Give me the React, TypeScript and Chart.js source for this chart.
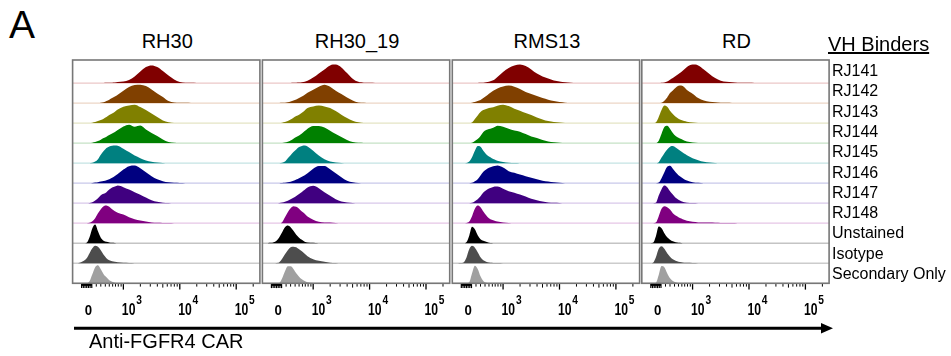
import React, { useEffect, useRef } from "react";
import { Chart, registerables } from "chart.js";
Chart.register(...registerables);

// ---------- data ----------
const PANELS = ["RH30", "RH30_19", "RMS13", "RD"];
const SERIES = ["RJ141", "RJ142", "RJ143", "RJ144", "RJ145", "RJ146", "RJ147", "RJ148", "Unstained", "Isotype", "Secondary Only"];
const COLORS = ["#800000", "#804000", "#808000", "#008000", "#008080", "#000080", "#400080", "#800080", "#000000", "#4d4d4d", "#a0a0a0"];
const TINTS = ["#ebc7c7", "#ecd6c6", "#e4e4c4", "#c6e2c6", "#c4e3e3", "#c8c8ea", "#d8c8ea", "#e6c6e6", "#c4c4c4", "#cccccc", "#d4d4d4"];

// display positions on the biexponential axis (decade units)
const GRID = [2.2, 2.25, 2.3, 2.35, 2.4, 2.45, 2.5, 2.55, 2.6, 2.65, 2.7, 2.75, 2.8, 2.85, 2.9,
  3.0, 3.1, 3.2, 3.3, 3.4, 3.5, 3.6, 3.7, 3.8, 3.9, 4.0, 4.1, 4.2, 4.3];
const X_MIN = 2.1;
const X_MAX = 5.42;
const ZERO_POS = 2.38;
const DECADE_TICKS = [3, 4, 5];
const BELOW_1E3_TICKS = [2.52, 2.6, 2.68, 2.75, 2.81, 2.86, 2.91, 2.96];
const ZERO_TICKS = [2.26, 2.29, 2.32, 2.35, 2.38, 2.41, 2.44];

// RH30
const RH30_RJ141 = [0, 0, 0, 0, 0, 0, 0, 0, 0, 0, .01, .01, .02, .03, .05, .08, .15, .33, .58, .8, .88, .8, .6, .38, .18, .05, .02, .01, 0];
const RH30_RJ142 = [0, 0, 0, 0, 0, 0, 0, 0, .01, .04, .1, .17, .25, .33, .42, .62, .8, .9, .92, .85, .68, .48, .3, .1, .03, .02, .01, 0, 0];
const RH30_RJ143 = [0, 0, 0, 0, 0, .02, .05, .1, .15, .22, .3, .4, .48, .57, .68, .82, .88, .92, .8, .65, .48, .3, .13, .04, .01, 0, 0, 0, 0];
const RH30_RJ144 = [0, 0, 0, 0, 0, .02, .05, .1, .17, .25, .32, .4, .48, .55, .65, .83, .92, .82, .88, .68, .5, .35, .18, .05, .02, 0, 0, 0, 0];
const RH30_RJ145 = [0, 0, 0, 0, 0, .02, .08, .2, .42, .6, .75, .83, .87, .88, .87, .72, .55, .38, .25, .13, .07, .03, .01, 0, 0, 0, 0, 0, 0];
const RH30_RJ146 = [0, 0, 0, 0, 0, .01, .03, .05, .08, .11, .15, .2, .27, .36, .46, .68, .85, .88, .75, .55, .35, .2, .1, .04, .02, .01, 0, 0, 0];
const RH30_RJ147 = [0, 0, 0, 0, .01, .05, .13, .25, .4, .47, .55, .68, .78, .83, .88, .8, .68, .55, .42, .28, .15, .07, .02, .01, 0, 0, 0, 0, 0];
const RH30_RJ148 = [0, 0, 0, 0, .02, .1, .25, .5, .7, .85, .88, .82, .7, .6, .52, .43, .3, .2, .13, .08, .03, .02, .01, .01, 0, 0, 0, 0, 0];
const RH30_UNST = [0, 0, 0, .03, .3, .75, .93, .6, .28, .13, .07, .04, .02, .01, 0, 0, 0, 0, 0, 0, 0, 0, 0, 0, 0, 0, 0, 0, 0];
const RH30_ISO = [.01, .05, .12, .25, .5, .75, .88, .82, .65, .42, .25, .15, .1, .07, .05, .02, .01, 0, 0, 0, 0, 0, 0, 0, 0, 0, 0, 0, 0];
const RH30_SEC = [0, 0, 0, .01, .1, .45, .8, .9, .7, .45, .3, .15, .08, .03, .01, 0, 0, 0, 0, 0, 0, 0, 0, 0, 0, 0, 0, 0, 0];

// RH30_19
const RH3019_RJ141 = [0, 0, 0, 0, 0, 0, 0, 0, 0, .01, .02, .03, .04, .07, .12, .27, .48, .68, .88, .92, .78, .5, .22, .06, .02, .01, 0, 0, 0];
const RH3019_RJ142 = [0, 0, 0, 0, 0, .01, .02, .04, .08, .13, .18, .25, .33, .42, .52, .67, .82, .92, .82, .62, .45, .28, .13, .03, .01, 0, 0, 0, 0];
const RH3019_RJ143 = [0, 0, 0, 0, 0, .02, .05, .1, .18, .27, .35, .42, .52, .63, .75, .83, .88, .83, .75, .6, .42, .25, .12, .04, .01, 0, 0, 0, 0];
const RH3019_RJ144 = [0, 0, 0, 0, 0, .01, .03, .07, .13, .22, .3, .38, .48, .6, .72, .85, .86, .78, .62, .45, .3, .15, .05, .02, .01, 0, 0, 0, 0];
const RH3019_RJ145 = [0, 0, 0, 0, 0, .02, .08, .25, .4, .55, .68, .8, .86, .88, .83, .62, .38, .2, .08, .03, .01, 0, 0, 0, 0, 0, 0, 0, 0];
const RH3019_RJ146 = [0, 0, 0, 0, 0, .01, .02, .04, .07, .12, .18, .25, .32, .4, .5, .72, .86, .86, .7, .5, .3, .12, .05, .01, 0, 0, 0, 0, 0];
const RH3019_RJ147 = [0, 0, 0, 0, .01, .03, .07, .12, .2, .27, .36, .46, .56, .67, .78, .87, .75, .55, .37, .2, .08, .03, .01, 0, 0, 0, 0, 0, 0];
const RH3019_RJ148 = [0, 0, 0, 0, 0, .05, .3, .55, .75, .85, .82, .72, .58, .47, .33, .17, .07, .04, .03, .01, 0, 0, 0, 0, 0, 0, 0, 0, 0];
const RH3019_UNST = [.01, .02, .05, .12, .3, .55, .8, .88, .8, .62, .42, .28, .17, .08, .04, .02, 0, 0, 0, 0, 0, 0, 0, 0, 0, 0, 0, 0, 0];
const RH3019_ISO = [0, 0, 0, .01, .05, .22, .45, .65, .8, .83, .8, .7, .6, .47, .35, .2, .12, .08, .03, .01, 0, 0, 0, 0, 0, 0, 0, 0, 0];
const RH3019_SEC = [0, 0, 0, 0, .02, .25, .6, .85, .85, .72, .5, .33, .2, .12, .05, .01, 0, 0, 0, 0, 0, 0, 0, 0, 0, 0, 0, 0, 0];

// RMS13
const RMS13_RJ141 = [0, 0, 0, 0, 0, 0, 0, 0, .01, .02, .04, .07, .12, .18, .3, .55, .75, .88, .92, .85, .68, .47, .33, .23, .13, .08, .04, .02, 0];
const RMS13_RJ142 = [0, 0, 0, 0, 0, .02, .05, .1, .15, .25, .35, .47, .57, .65, .73, .83, .88, .82, .7, .55, .45, .35, .25, .17, .1, .05, .02, 0, 0];
const RMS13_RJ143 = [0, 0, 0, 0, 0, .03, .2, .38, .55, .65, .7, .75, .78, .82, .87, .92, .85, .72, .62, .5, .4, .28, .18, .1, .06, .03, .01, 0, 0];
const RMS13_RJ144 = [0, 0, 0, 0, 0, .02, .1, .2, .35, .55, .65, .7, .74, .8, .87, .82, .72, .63, .57, .45, .33, .25, .15, .08, .04, .02, 0, 0, 0];
const RMS13_RJ145 = [0, 0, 0, .01, .08, .3, .62, .86, .82, .62, .45, .33, .25, .18, .12, .06, .02, .01, 0, 0, 0, 0, 0, 0, 0, 0, 0, 0, 0];
const RMS13_RJ146 = [0, 0, 0, 0, 0, .02, .1, .2, .38, .57, .68, .77, .82, .86, .88, .78, .6, .52, .43, .35, .27, .2, .12, .08, .04, .02, 0, 0, 0];
const RMS13_RJ147 = [0, 0, 0, 0, 0, .02, .1, .2, .35, .53, .65, .73, .78, .83, .83, .72, .6, .52, .43, .33, .22, .15, .08, .04, .02, .01, 0, 0, 0];
const RMS13_RJ148 = [0, 0, 0, .01, .08, .35, .72, .88, .8, .58, .4, .25, .17, .12, .08, .03, .01, 0, 0, 0, 0, 0, 0, 0, 0, 0, 0, 0, 0];
const RMS13_UNST = [0, 0, 0, .05, .38, .82, .7, .4, .2, .12, .07, .03, .01, 0, 0, 0, 0, 0, 0, 0, 0, 0, 0, 0, 0, 0, 0, 0, 0];
const RMS13_ISO = [0, .01, .04, .28, .7, .87, .78, .55, .3, .15, .08, .04, .02, .01, .01, 0, 0, 0, 0, 0, 0, 0, 0, 0, 0, 0, 0, 0, 0];
const RMS13_SEC = [0, 0, 0, 0, .05, .5, .88, .72, .35, .12, .03, .01, 0, 0, 0, 0, 0, 0, 0, 0, 0, 0, 0, 0, 0, 0, 0, 0, 0];

// RD
const RD_RJ141 = [0, 0, 0, 0, 0, .01, .03, .08, .17, .25, .35, .45, .55, .67, .8, .92, .88, .68, .45, .25, .12, .06, .04, .02, .01, .01, 0, 0, 0];
const RD_RJ142 = [0, 0, 0, 0, 0, .02, .12, .28, .5, .63, .77, .86, .88, .8, .65, .47, .25, .13, .07, .04, .02, .01, 0, 0, 0, 0, 0, 0, 0];
const RD_RJ143 = [0, 0, 0, .03, .3, .65, .88, .82, .62, .45, .32, .22, .15, .1, .07, .03, .01, 0, 0, 0, 0, 0, 0, 0, 0, 0, 0, 0, 0];
const RD_RJ144 = [0, 0, 0, 0, .12, .47, .8, .87, .72, .5, .35, .27, .2, .13, .08, .03, .01, 0, 0, 0, 0, 0, 0, 0, 0, 0, 0, 0, 0];
const RD_RJ145 = [0, 0, 0, 0, .05, .28, .5, .68, .82, .85, .78, .68, .58, .48, .4, .25, .15, .07, .03, .01, 0, 0, 0, 0, 0, 0, 0, 0, 0];
const RD_RJ146 = [0, 0, 0, 0, .03, .25, .55, .82, .87, .72, .55, .4, .3, .2, .13, .05, .02, 0, 0, 0, 0, 0, 0, 0, 0, 0, 0, 0, 0];
const RD_RJ147 = [0, 0, 0, .02, .38, .7, .88, .8, .6, .43, .27, .17, .1, .05, .02, .01, 0, 0, 0, 0, 0, 0, 0, 0, 0, 0, 0, 0, 0];
const RD_RJ148 = [0, 0, 0, .03, .35, .72, .85, .8, .68, .5, .38, .3, .23, .17, .12, .07, .04, .03, .03, .02, .01, .01, .01, 0, 0, 0, 0, 0, 0];
const RD_UNST = [0, 0, .02, .35, .83, .75, .5, .3, .18, .1, .05, .02, .01, 0, 0, 0, 0, 0, 0, 0, 0, 0, 0, 0, 0, 0, 0, 0, 0];
const RD_ISO = [0, 0, .03, .3, .72, .85, .72, .5, .33, .2, .13, .08, .05, .03, .02, .01, 0, 0, 0, 0, 0, 0, 0, 0, 0, 0, 0, 0, 0];
const RD_SEC = [0, 0, 0, .03, .42, .86, .8, .5, .25, .12, .05, .02, .01, 0, 0, 0, 0, 0, 0, 0, 0, 0, 0, 0, 0, 0, 0, 0, 0];

const PANEL_DATA = [
  [RH30_RJ141, RH30_RJ142, RH30_RJ143, RH30_RJ144, RH30_RJ145, RH30_RJ146, RH30_RJ147, RH30_RJ148, RH30_UNST, RH30_ISO, RH30_SEC],
  [RH3019_RJ141, RH3019_RJ142, RH3019_RJ143, RH3019_RJ144, RH3019_RJ145, RH3019_RJ146, RH3019_RJ147, RH3019_RJ148, RH3019_UNST, RH3019_ISO, RH3019_SEC],
  [RMS13_RJ141, RMS13_RJ142, RMS13_RJ143, RMS13_RJ144, RMS13_RJ145, RMS13_RJ146, RMS13_RJ147, RMS13_RJ148, RMS13_UNST, RMS13_ISO, RMS13_SEC],
  [RD_RJ141, RD_RJ142, RD_RJ143, RD_RJ144, RD_RJ145, RD_RJ146, RD_RJ147, RD_RJ148, RD_UNST, RD_ISO, RD_SEC],
];

// ---------- layout ----------
const PANEL_LEFT = [72.6, 262.4, 452.3, 641.8];
const PANEL_W = 187.3;
const PANEL_TOP = 60;
const PANEL_H = 223.3;
const CANVAS_W = 232;
const CANVAS_H = 280;
const CANVAS_TOP = 50;
const Y_MAX = 11.15;
const FONT = '"Liberation Sans", Arial, sans-serif';

const decorPlugin = {
  id: "decor",
  beforeDatasetsDraw(chart: any) {
    const { ctx, chartArea, scales } = chart;
    ctx.save();
    SERIES.forEach((_, i) => {
      const py = scales.y.getPixelForValue(SERIES.length - 1 - i);
      ctx.strokeStyle = TINTS[i];
      ctx.lineWidth = 1.3;
      ctx.beginPath();
      ctx.moveTo(chartArea.left, py);
      ctx.lineTo(chartArea.right, py);
      ctx.stroke();
    });
    ctx.restore();
  },
  afterDraw(chart: any) {
    const { ctx, chartArea, scales } = chart;
    const x = scales.x;
    const b = chartArea.bottom;
    ctx.save();
    // frame
    ctx.strokeStyle = "#777777";
    ctx.lineWidth = 1.6;
    ctx.strokeRect(chartArea.left, chartArea.top, chartArea.right - chartArea.left, chartArea.bottom - chartArea.top);
    // ticks
    ctx.strokeStyle = "#000";
    const tick = (v: number, len: number, w = 1) => {
      const px = x.getPixelForValue(v);
      ctx.lineWidth = w;
      ctx.beginPath();
      ctx.moveTo(px, b + 0.8);
      ctx.lineTo(px, b + 0.8 + len);
      ctx.stroke();
    };
    ZERO_TICKS.forEach((v) => tick(v, 4, 1.2));
    ctx.lineWidth = 2;
    ctx.beginPath();
    ctx.moveTo(x.getPixelForValue(ZERO_TICKS[0]), b + 1.6);
    ctx.lineTo(x.getPixelForValue(ZERO_TICKS[ZERO_TICKS.length - 1]), b + 1.6);
    ctx.stroke();
    BELOW_1E3_TICKS.forEach((v) => tick(v, 2.5));
    DECADE_TICKS.forEach((d) => {
      tick(d, 5.5, 1.3);
      for (let k = 2; k <= 9; k++) {
        const v = d + Math.log10(k);
        if (v < X_MAX) tick(v, k === 5 ? 3.5 : 2.5);
      }
    });
    // labels
    ctx.fillStyle = "#000";
    ctx.textBaseline = "alphabetic";
    ctx.font = `bold 15px ${FONT}`;
    ctx.textAlign = "center";
    ctx.save();
    ctx.translate(x.getPixelForValue(ZERO_POS), b + 31.8);
    ctx.scale(0.88, 1);
    ctx.fillText("0", 0, 0);
    ctx.restore();
    ctx.textAlign = "left";
    DECADE_TICKS.forEach((d) => {
      const px = x.getPixelForValue(d) - 1.5;
      ctx.font = `bold 16px ${FONT}`;
      const w = ctx.measureText("10").width * 0.76;
      ctx.save();
      ctx.translate(px, b + 31.6);
      ctx.scale(0.76, 1);
      ctx.fillText("10", 0, 0);
      ctx.restore();
      ctx.font = `bold 12px ${FONT}`;
      ctx.save();
      ctx.translate(px + w + 0.8, b + 20.6);
      ctx.scale(0.85, 1);
      ctx.fillText(String(d), 0, 0);
      ctx.restore();
    });
    ctx.restore();
  },
};

function Panel({ p }: { p: number }) {
  const ref = useRef<HTMLCanvasElement | null>(null);
  const canvasLeft = Math.floor(PANEL_LEFT[p]) - 20;
  useEffect(() => {
    if (!ref.current) return;
    const padLeft = PANEL_LEFT[p] - canvasLeft;
    const datasets = SERIES.map((name, i) => {
      const base = SERIES.length - 1 - i;
      const vals = PANEL_DATA[p][i];
      return {
        label: name,
        data: GRID.map((g, k) => ({ x: g, y: base + vals[k] })),
        backgroundColor: COLORS[i],
        borderColor: "rgba(0,0,0,0)",
        borderWidth: 0,
        pointRadius: 0,
        cubicInterpolationMode: "monotone" as const,
        fill: { value: base },
      };
    });
    const chart = new Chart(ref.current, {
      type: "line",
      data: { datasets },
      options: {
        animation: false,
        responsive: false,
        devicePixelRatio: 1,
        layout: {
          padding: {
            left: padLeft,
            right: CANVAS_W - padLeft - PANEL_W,
            top: PANEL_TOP - CANVAS_TOP,
            bottom: CANVAS_H - (PANEL_TOP - CANVAS_TOP) - PANEL_H,
          },
        },
        scales: {
          x: { type: "linear", min: X_MIN, max: X_MAX, display: false },
          y: { type: "linear", min: 0, max: Y_MAX, display: false },
        },
        plugins: { legend: { display: false }, tooltip: { enabled: false } },
      },
      plugins: [decorPlugin],
    } as any);
    return () => chart.destroy();
  }, []);
  return (
    <canvas
      ref={ref}
      width={CANVAS_W}
      height={CANVAS_H}
      style={{ position: "absolute", left: canvasLeft, top: CANVAS_TOP, width: CANVAS_W, height: CANVAS_H }}
    />
  );
}

export default function App() {
  const textTop = (baseline: number, size: number) => baseline - 0.847 * size;
  return (
    <div
      style={{
        position: "absolute",
        left: 0,
        top: 0,
        width: 951,
        height: 356,
        background: "#fff",
        overflow: "hidden",
        fontFamily: FONT,
        color: "#000",
      }}
    >
      <div style={{ position: "absolute", left: 9, top: textTop(38.3, 39), fontSize: 39, lineHeight: "39px" }}>A</div>
      {PANELS.map((name, p) => (
        <div
          key={name}
          style={{
            position: "absolute",
            left: PANEL_LEFT[p] + PANEL_W / 2 - 100 + 1,
            width: 200,
            textAlign: "center",
            top: textTop(48.3, 20),
            fontSize: 20,
            lineHeight: "20px",
          }}
        >
          {name}
        </div>
      ))}
      {PANELS.map((name, p) => (
        <Panel key={"c" + name} p={p} />
      ))}
      <div
        style={{
          position: "absolute",
          left: 828,
          top: textTop(51, 20),
          fontSize: 20,
          lineHeight: "20px",
          textDecoration: "underline",
          whiteSpace: "nowrap",
        }}
      >
        VH Binders
      </div>
      {SERIES.map((s, i) => (
        <div
          key={s}
          style={{
            position: "absolute",
            left: 832,
            top: textTop(76.6 + i * 20.3, 16),
            fontSize: 16,
            lineHeight: "16px",
            whiteSpace: "nowrap",
          }}
        >
          {s}
        </div>
      ))}
      <svg style={{ position: "absolute", left: 0, top: 0 }} width={951} height={356}>
        <line x1={74} y1={328.3} x2={824} y2={328.3} stroke="#000" strokeWidth={3} />
        <polygon points="821,323 833,328.3 821,333.6" fill="#000" />
      </svg>
      <div
        style={{
          position: "absolute",
          left: 89,
          top: textTop(347.7, 20),
          fontSize: 20,
          lineHeight: "20px",
          whiteSpace: "nowrap",
        }}
      >
        Anti-FGFR4 CAR
      </div>
    </div>
  );
}
